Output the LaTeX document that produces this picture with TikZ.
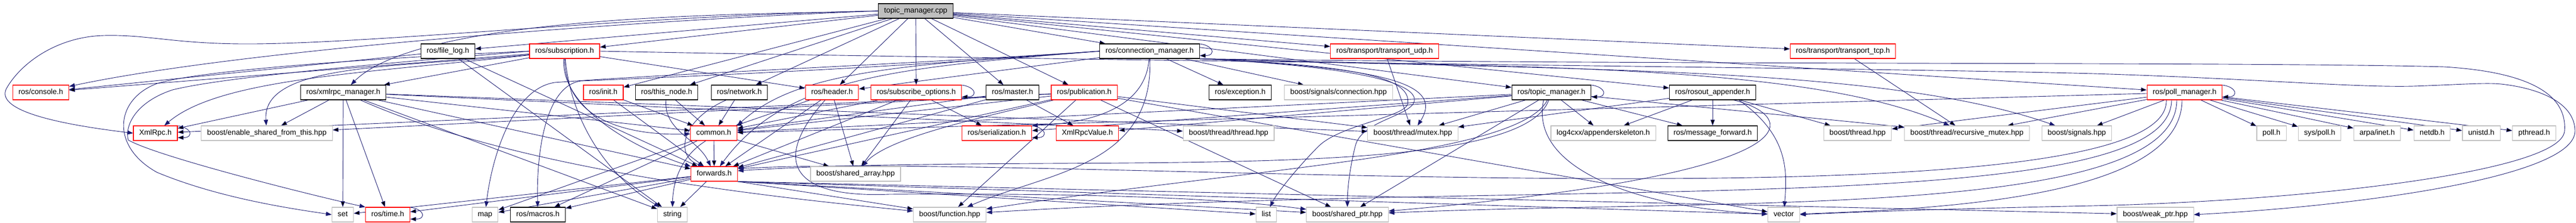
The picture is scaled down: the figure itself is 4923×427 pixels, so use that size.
\documentclass[tikz,border=0pt]{standalone}
\usepackage{fontspec}
\setmainfont{Liberation Sans}
\usepackage{tikz}
\usetikzlibrary{arrows.meta}

\definecolor{edgeblue}{HTML}{191970}
\definecolor{extgrey}{HTML}{BFBFBF}
\pgfdeclarelayer{edges}
\pgfsetlayers{edges,main}
\tikzset{
  file/.style={draw, line width=1.1pt, fill=white, minimum height=28pt,
    inner xsep=11pt, inner ysep=0pt, text height=10.5pt, text depth=3pt,
    font=\fontsize{14.3}{17}\selectfont},
  docfile/.style={file, draw=black},
  cutfile/.style={file, draw=red},
  extfile/.style={file, draw=extgrey},
  rootfile/.style={file, draw=black, fill=extgrey},
  dep/.style={draw=edgeblue, line width=0.9pt, -{Triangle[length=11pt,width=8pt]}},
  selfloop/.style={out=0, in=0, looseness=3.5},
}

\begin{document}
\begin{tikzpicture}[x=1pt, y=-1pt]
\useasboundingbox (0,0) rectangle (4923,427);
% row 0
\node[rootfile] (tmcpp) at (1750,21) {topic\_manager.cpp};
% row 1
\node[docfile] (filelog) at (856,98) {ros/file\_log.h};
\node[cutfile] (subscription) at (1079,98) {ros/subscription.h};
\node[docfile] (connmgr) at (2197,98) {ros/connection\_manager.h};
\node[cutfile] (udp) at (2646,98) {ros/transport/transport\_udp.h};
\node[cutfile] (tcp) at (3522,98) {ros/transport/transport\_tcp.h};
% row 2
\node[cutfile] (console) at (78,177) {ros/console.h};
\node[docfile] (xmlrpcmgr) at (656,177) {ros/xmlrpc\_manager.h};
\node[cutfile] (init) at (1153,177) {ros/init.h};
\node[docfile] (thisnode) at (1274,177) {ros/this\_node.h};
\node[docfile] (network) at (1413,177) {ros/network.h};
\node[cutfile] (header) at (1590,177) {ros/header.h};
\node[cutfile] (subopts) at (1751,177) {ros/subscribe\_options.h};
\node[docfile] (master) at (1935,177) {ros/master.h};
\node[cutfile] (publication) at (2072,177) {ros/publication.h};
\node[docfile] (exception) at (2370,177) {ros/exception.h};
\node[extfile] (sigconn) at (2558,177) {boost/signals/connection.hpp};
\node[docfile] (topicmgr) at (2965,177) {ros/topic\_manager.h};
\node[docfile] (rosout) at (3273,177) {ros/rosout\_appender.h};
\node[cutfile] (pollmgr) at (4175,177) {ros/poll\_manager.h};
% row 3
\node[cutfile] (xmlrpc) at (297,255) {XmlRpc.h};
\node[extfile] (enableshared) at (510,255) {boost/enable\_shared\_from\_this.hpp};
\node[cutfile] (common) at (1364,255) {common.h};
\node[cutfile] (serialization) at (1905,255) {ros/serialization.h};
\node[cutfile] (xmlrpcvalue) at (2078,255) {XmlRpcValue.h};
\node[extfile] (thread) at (2348,255) {boost/thread/thread.hpp};
\node[extfile] (mutex) at (2700,255) {boost/thread/mutex.hpp};
\node[extfile] (log4cxx) at (3064,255) {log4cxx/appenderskeleton.h};
\node[docfile] (msgfwd) at (3273,255) {ros/message\_forward.h};
\node[extfile] (boostthread) at (3550,255) {boost/thread.hpp};
\node[extfile] (recmutex) at (3759,255) {boost/thread/recursive\_mutex.hpp};
\node[extfile] (signals) at (3969,255) {boost/signals.hpp};
\node[extfile] (poll) at (4341,255) {poll.h};
\node[extfile] (syspoll) at (4433,255) {sys/poll.h};
\node[extfile] (inet) at (4543,255) {arpa/inet.h};
\node[extfile] (netdb) at (4648,255) {netdb.h};
\node[extfile] (unistd) at (4742,255) {unistd.h};
\node[extfile] (pthread) at (4843,255) {pthread.h};
% row 4
\node[cutfile] (forwards) at (1365,333) {forwards.h};
\node[extfile] (sharedarray) at (1635,333) {boost/shared\_array.hpp};
% row 5
\node[extfile] (set) at (655,411) {set};
\node[cutfile] (rostime) at (741,411) {ros/time.h};
\node[extfile] (map) at (927,411) {map};
\node[docfile] (macros) at (1028,411) {ros/macros.h};
\node[extfile] (string) at (1285,411) {string};
\node[extfile] (function) at (1815,411) {boost/function.hpp};
\node[extfile] (list) at (2420,411) {list};
\node[extfile] (sharedptr) at (2575,411) {boost/shared\_ptr.hpp};
\node[extfile] (vector) at (3409,411) {vector};
\node[extfile] (weakptr) at (4119,411) {boost/weak\_ptr.hpp};

\begin{pgfonlayer}{edges}
\path[dep]
  % topic_manager.cpp
  (tmcpp) edge (filelog)
  (tmcpp) edge (subscription)
  (tmcpp) edge (init)
  (tmcpp) edge (thisnode)
  (tmcpp) edge (network)
  (tmcpp) edge (header)
  (tmcpp) edge (subopts)
  (tmcpp) edge (master)
  (tmcpp) edge (publication)
  (tmcpp) edge (connmgr)
  (tmcpp) edge (udp)
  (tmcpp) edge (tcp)
  (tmcpp) edge (topicmgr)
  (tmcpp) edge (rosout)
  (tmcpp) edge (pollmgr)
  % row 1
  (filelog) edge (console)
  (filelog) edge (forwards)
  (filelog) edge (string)
  (subscription) edge (console)
  (subscription) edge (xmlrpcmgr)
  (subscription) edge (header)
  (connmgr) edge (header)
  (connmgr) edge (exception)
  (connmgr) edge (sigconn)
  (udp) edge (mutex)
  (tcp) edge (recmutex)
  % row 2
  (xmlrpcmgr) edge (xmlrpc)
  (xmlrpcmgr) edge (enableshared)
  (xmlrpcmgr) edge (set)
  (xmlrpcmgr) edge (rostime)
  (xmlrpcmgr) edge (string)
  (xmlrpcmgr) edge (common)
  (xmlrpcmgr) edge (forwards)
  (xmlrpcmgr) edge (thread)
  (xmlrpcmgr) edge (mutex)
  (init) edge (common)
  (init) edge (forwards)
  (thisnode) edge (common)
  (network) edge (common)
  (header) edge (common)
  (header) edge (forwards)
  (header) edge (sharedarray)
  (subopts) edge (common)
  (subopts) edge (forwards)
  (subopts) edge (serialization)
  (subopts) edge (sharedarray)
  (master) edge (common)
  (master) edge (forwards)
  (master) edge (xmlrpcvalue)
  (publication) edge (xmlrpc)
  (publication) edge (enableshared)
  (publication) edge (common)
  (publication) edge (forwards)
  (publication) edge (mutex)
  (publication) edge (function)
  (publication) edge (sharedptr)
  (publication) edge (vector)
  (topicmgr) edge (common)
  (topicmgr) edge (serialization)
  (topicmgr) edge (xmlrpcvalue)
  (topicmgr) edge (mutex)
  (topicmgr) edge (recmutex)
  (topicmgr) edge (log4cxx)
  (topicmgr) edge (msgfwd)
  (topicmgr) edge (sharedptr)
  (rosout) edge (log4cxx)
  (rosout) edge (msgfwd)
  (rosout) edge (boostthread)
  (rosout) edge (mutex)
  (pollmgr) edge (common)
  (pollmgr) edge (boostthread)
  (pollmgr) edge (recmutex)
  (pollmgr) edge (signals)
  (pollmgr) edge (poll)
  (pollmgr) edge (syspoll)
  (pollmgr) edge (inet)
  (pollmgr) edge (netdb)
  (pollmgr) edge (unistd)
  (pollmgr) edge (pthread)
  % common.h, forwards.h
  (common) edge (forwards)
  (common) edge (sharedarray)
  (common) edge (macros)
  (common) edge (map)
  (forwards) edge (set)
  (forwards) edge (rostime)
  (forwards) edge (map)
  (forwards) edge (macros)
  (forwards) edge (string)
  (forwards.south east) edge (function)
  (forwards.south east) edge (list)
  (forwards.south east) edge (sharedptr)
  (forwards.south east) edge (vector)
  (forwards.south east) edge (weakptr)
  % self references
  ([xshift=-8pt]xmlrpc.north east) edge[selfloop] ([yshift=6pt]xmlrpc.south east)
  ([xshift=-8pt]rostime.north east) edge[selfloop] ([yshift=6pt]rostime.south east)
  ([xshift=-8pt]subopts.north east) edge[selfloop] ([yshift=6pt]subopts.south east)
  ([xshift=-8pt]serialization.north east) edge[selfloop] ([yshift=6pt]serialization.south east)
  ([xshift=-8pt]connmgr.north east) edge[selfloop] ([yshift=6pt]connmgr.south east)
  ([xshift=-8pt]topicmgr.north east) edge[selfloop] ([yshift=6pt]topicmgr.south east)
  ([xshift=-8pt]pollmgr.north east) edge[selfloop] ([yshift=6pt]pollmgr.south east);

% routed round other boxes
\draw[dep] (tmcpp.west) .. controls (1200,30) and (700,86) .. (460,84)
  .. controls (330,83) and (280,66) .. (199,68)
  .. controls (110,70) and (40,120) .. (12,170)
  .. controls (-10,215) and (130,240) .. (xmlrpc.west);
\draw[dep] (tmcpp.west) .. controls (1311,34) and (491,89) .. (console);
\draw[dep] (tmcpp.west) .. controls (1478,28) and (811,22) .. (xmlrpcmgr);
\draw[dep] (subscription) .. controls (700,140) and (420,150) .. (xmlrpc);
\draw[dep] (subscription) .. controls (760,130) and (500,120) .. (enableshared);
\draw[dep] (subscription) .. controls (1080,230) and (1200,260) .. (common);
\draw[dep] (subscription) .. controls (1070,200) and (1200,280) .. (forwards);
\draw[dep] (subscription) .. controls (1090,220) and (1150,330) .. (string);
\draw[dep] (subscription.west) .. controls (700,112) and (380,135) .. (300,160)
  .. controls (220,190) and (210,280) .. (300,330)
  .. controls (420,380) and (560,400) .. (set.west);
\draw[dep] (subscription.west) .. controls (650,128) and (420,150) .. (330,172)
  .. controls (260,195) and (238,240) .. (245,268)
  .. controls (300,300) and (600,375) .. (rostime.north west);
\draw[dep] (subscription.east) .. controls (2300,120) and (3600,130) .. (4000,141)
  .. controls (4300,150) and (4500,168) .. (4613,165)
  .. controls (4700,162) and (4750,158) .. (4780,161)
  .. controls (4860,170) and (4921,200) .. (4921,251)
  .. controls (4921,340) and (4500,395) .. (weakptr.east);
\draw[dep] (thisnode) .. controls (1268,251) and (1333,265) .. (forwards);
\draw[dep] ([xshift=-25pt]network.south) .. controls (1300,230) and (1290,300) .. ([xshift=-20pt]forwards.north);
\draw[dep] ([xshift=-15pt]common.south) .. controls (1300,300) and (1286,350) .. (string);
\draw[dep] (xmlrpcmgr) .. controls (1000,330) and (1500,380) .. (function);
\draw[dep] (publication) .. controls (1900,220) and (1700,260) .. (sharedarray);
\draw[dep] (header) .. controls (1480,300) and (1500,380) .. (1700,372)
  .. controls (2000,370) and (2300,375) .. (sharedptr);
\draw[dep] (connmgr.west) .. controls (1700,125) and (1520,140) .. (common.north east);
\draw[dep] (connmgr.west) .. controls (1700,130) and (1500,150) .. (forwards);
\draw[dep] (connmgr.west) .. controls (1700,125) and (1300,140) .. (1060,158)
  .. controls (980,170) and (940,300) .. (map);
\draw[dep] (connmgr.west) .. controls (1700,130) and (1350,145) .. (1110,155)
  .. controls (1040,165) and (1025,300) .. (macros);
\draw[dep] (connmgr) .. controls (2190,200) and (2100,235) .. (serialization.north east);
\draw[dep] (connmgr) .. controls (2205,320) and (2000,330) .. (function);
\draw[dep] (connmgr.south east) .. controls (2650,130) and (2760,160) .. (mutex);
\draw[dep] (connmgr.south east) .. controls (2900,130) and (3450,120) .. (recmutex);
\draw[dep] (connmgr.south east) .. controls (3000,135) and (3600,125) .. (signals);
\draw[dep] (connmgr.south east) .. controls (2600,125) and (2700,150) .. (2690,200)
  .. controls (2680,225) and (2560,240) .. (2520,280)
  .. controls (2480,320) and (2440,370) .. (list);
\draw[dep] (connmgr.south east) .. controls (2650,130) and (2720,170) .. (2700,200)
  .. controls (2680,225) and (2600,235) .. (2590,280)
  .. controls (2580,320) and (2575,360) .. (sharedptr);
\draw[dep] (connmgr.south east) .. controls (3200,125) and (4300,118) .. (4671,128)
  .. controls (4870,140) and (4905,200) .. (4901,251)
  .. controls (4895,330) and (4400,385) .. (4000,394)
  .. controls (3700,400) and (3500,408) .. (vector.east);
\draw[dep] (topicmgr) .. controls (2900,300) and (2400,320) .. (function);
\draw[dep] ([xshift=-15pt]topicmgr.south) .. controls (2920,330) and (3150,400) .. (vector);
\draw[dep] (topicmgr) .. controls (2900,360) and (2000,290) .. ([yshift=6pt]forwards.east);
\draw[dep] ([xshift=40pt]rosout.south) .. controls (3430,220) and (3500,330) .. (sharedptr);
\draw[dep] ([xshift=50pt]rosout.south) .. controls (3420,260) and (3415,330) .. (vector);
\draw[dep] ([xshift=-35pt]pollmgr.south) .. controls (4150,450) and (2000,290) .. ([yshift=10pt]forwards.east);
\draw[dep] ([xshift=-25pt]pollmgr.south) .. controls (4150,420) and (3000,340) .. (function);
\draw[dep] ([xshift=-15pt]pollmgr.south) .. controls (4160,420) and (3300,380) .. (sharedptr);
\draw[dep] ([xshift=-5pt]pollmgr.south) .. controls (4170,380) and (3700,400) .. (vector);
\end{pgfonlayer}
\end{tikzpicture}
\end{document}
